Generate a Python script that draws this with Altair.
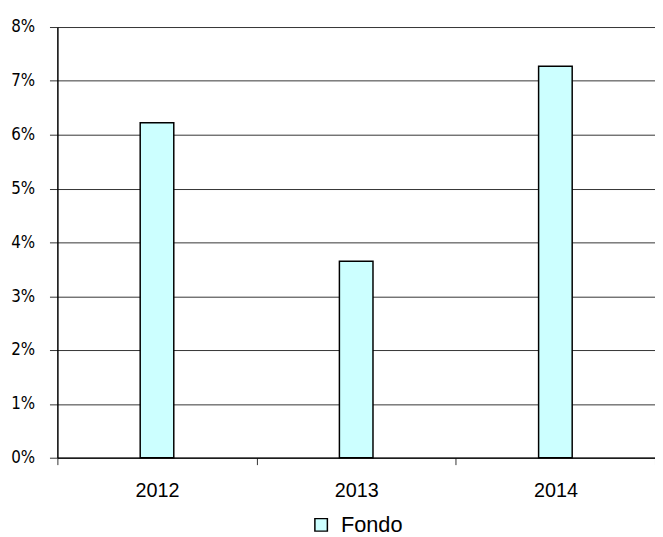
import altair as alt
import pandas as pd

years = ["2012", "2013", "2014"]
values = [0.0622, 0.0365, 0.0727]
series = ["Fondo", "Fondo", "Fondo"]
y_ticks = [0, 0.01, 0.02, 0.03, 0.04, 0.05, 0.06, 0.07, 0.08]

df = pd.DataFrame({"year": years, "value": values, "series": series})

chart = alt.Chart(df).mark_bar(
    size=34, stroke="black", strokeWidth=1.5
).encode(
    x=alt.X("year:N", title=None,
            scale=alt.Scale(paddingInner=0, paddingOuter=0),
            axis=alt.Axis(labelAngle=0, tickBand="extent", tickSize=7,
                          tickColor="#333333", domainColor="black", domainWidth=1.2,
                          labelFont="Liberation Sans", labelFontSize=20,
                          labelColor="black", labelPadding=16, grid=False)),
    y=alt.Y("value:Q", title=None,
            scale=alt.Scale(domain=[0, 0.08], nice=False),
            axis=alt.Axis(values=y_ticks, format=".0%", tickSize=8,
                          tickColor="#333333", domainColor="black", domainWidth=1.5,
                          gridColor="#333333", gridWidth=1, gridOpacity=1,
                          labelFont="DejaVu Sans Condensed", labelFontSize=17,
                          labelColor="black", labelPadding=15)),
    color=alt.Color("series:N", title=None,
                    scale=alt.Scale(domain=["Fondo"], range=["#CCFFFF"]),
                    legend=alt.Legend(orient="none", legendX=256, legendY=493,
                                      symbolType="square", symbolSize=160,
                                      symbolStrokeColor="black", symbolStrokeWidth=1.5,
                                      labelFont="Liberation Sans", labelFontSize=22,
                                      labelColor="black", labelOffset=9, padding=0)),
).properties(
    width=605, height=436,
    autosize=alt.AutoSizeParams(type="none"),
    padding={"left": 50, "top": 16, "right": 0, "bottom": 77},
).configure_view(stroke=None)

chart.save("out.html", embed_options={"renderer": "svg", "actions": False})
